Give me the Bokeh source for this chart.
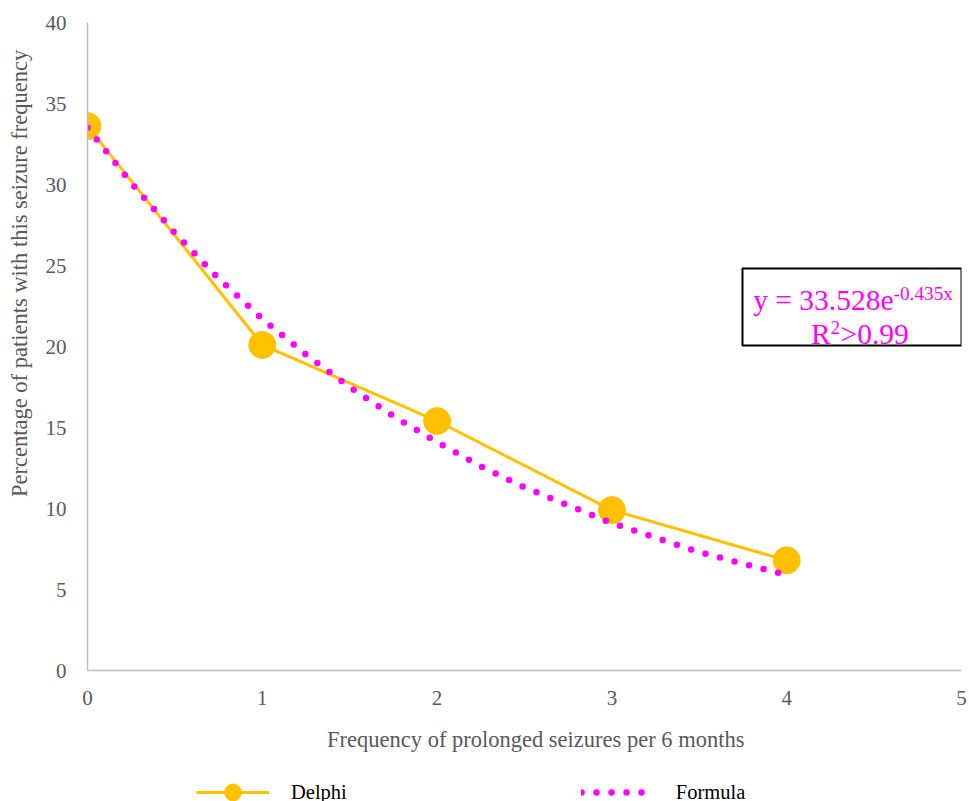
from bokeh.plotting import figure
from bokeh.layouts import column
from bokeh.models import (Legend, LegendItem, Label, BoxAnnotation, FixedTicker,
                          ColumnDataSource)
from bokeh.embed import file_html
from bokeh.resources import INLINE

# ---- data ----
freq = [0, 1, 2, 3, 4]
delphi = [33.6, 20.1, 15.4, 9.9, 6.8]
formula_x = [0, 0.25, 0.5, 0.75, 1, 1.25, 1.5, 1.75, 2, 2.25, 2.5, 2.75, 3, 3.25, 3.5, 3.75, 4]
formula_y = [33.5, 30.1, 27.0, 24.2, 21.7, 19.5, 17.5, 15.7, 14.1, 12.6, 11.3, 10.2, 9.1, 8.2, 7.3, 6.6, 5.9]
x_ticks = [0, 1, 2, 3, 4, 5]
y_ticks = [0, 5, 10, 15, 20, 25, 30, 35, 40]
x_title = "Frequency of prolonged seizures per 6 months"
y_title = "Percentage of patients with this seizure frequency"

FONT = "Liberation Serif"
GOLD = "#FFC000"
MAG = "#FF00FF"
AXIS = "#BFBFBF"
TXT = "#595959"
NBSP = "\u00a0"

p = figure(width=969, height=770, output_backend="svg", toolbar_location=None,
           x_range=(0, 5), y_range=(0, 40),
           min_border_left=87, min_border_right=8, min_border_top=22, min_border_bottom=100)
p.outline_line_color = None
p.xgrid.visible = False
p.ygrid.visible = False

for ax in (p.xaxis[0], p.yaxis[0]):
    ax.axis_line_color = AXIS
    ax.axis_line_width = 1.5
    ax.major_tick_line_color = None
    ax.minor_tick_line_color = None
    ax.major_label_text_font = FONT
    ax.major_label_text_font_size = "21px"
    ax.major_label_text_color = TXT
    ax.axis_label_text_font = FONT
    ax.axis_label_text_font_size = "22.5px"
    ax.axis_label_text_color = TXT
    ax.axis_label_text_font_style = "normal"

p.xaxis.ticker = FixedTicker(ticks=x_ticks)
p.yaxis.ticker = FixedTicker(ticks=y_ticks)
p.xaxis.major_label_standoff = 14
p.yaxis.major_label_standoff = 15
# non-breaking padding shifts the titles off-centre as in the reference
p.xaxis.axis_label = NBSP * 4 + x_title
p.yaxis.axis_label = NBSP * 26 + y_title
p.xaxis.axis_label_standoff = 19
p.yaxis.axis_label_standoff = 11

src = ColumnDataSource(dict(x=freq, y=delphi))
fsrc = ColumnDataSource(dict(x=formula_x, y=formula_y))

DEL_LINE = dict(line_color=GOLD, line_width=3)
DEL_MARK = dict(size=27, fill_color=GOLD, line_color=GOLD)
FOR_LINE = dict(line_color=MAG, line_width=6.5, line_dash="0 15", line_cap="round")

p.line("x", "y", source=src, **DEL_LINE)
p.scatter("x", "y", source=src, **DEL_MARK)
p.line("x", "y", source=fsrc, **FOR_LINE)

box = BoxAnnotation(left=3.747, right=5.0, top=24.81, bottom=20.06,
                    fill_color="white", fill_alpha=1.0,
                    line_color="black", line_alpha=1.0, line_width=2)
p.add_layout(box)

p.add_layout(Label(x=4.611, y=22.84, text="y = 33.528e", text_align="right",
                   text_baseline="alphabetic", text_font=FONT, text_font_size="29.5px",
                   text_color=MAG))
p.add_layout(Label(x=4.611, y=23.27, text="-0.435x", text_align="left",
                   text_baseline="alphabetic", text_font=FONT, text_font_size="19.3px",
                   text_color=MAG))
p.add_layout(Label(x=4.251, y=20.80, text="R", text_align="right",
                   text_baseline="alphabetic", text_font=FONT, text_font_size="29.5px",
                   text_color=MAG))
p.add_layout(Label(x=4.251, y=21.17, text="2", text_align="left",
                   text_baseline="alphabetic", text_font=FONT, text_font_size="19.3px",
                   text_color=MAG))
p.add_layout(Label(x=4.308, y=20.80, text=">0.99", text_align="left",
                   text_baseline="alphabetic", text_font=FONT, text_font_size="29.5px",
                   text_color=MAG))

# ---- legend strip below the chart (its ranges keep the series out of view) ----
lg = figure(width=969, height=31, output_backend="svg", toolbar_location=None,
            x_axis_type=None, y_axis_type=None, x_range=(100, 101), y_range=(100, 101),
            min_border_left=0, min_border_right=0, min_border_top=0, min_border_bottom=0)
lg.outline_line_color = None
lg.xgrid.visible = False
lg.ygrid.visible = False
r1 = lg.line("x", "y", source=src, **DEL_LINE)
r2 = lg.scatter("x", "y", source=src, **DEL_MARK)
r3 = lg.line("x", "y", source=fsrc, **FOR_LINE)

legend = Legend(items=[LegendItem(label="Delphi", renderers=[r1, r2]),
                       LegendItem(label="Formula", renderers=[r3])],
                orientation="horizontal", location=(109, -12),
                glyph_width=73, glyph_height=42, label_standoff=22, spacing=234,
                padding=0, margin=0, border_line_color=None, background_fill_alpha=0,
                label_text_font=FONT, label_text_font_size="20.5px", label_text_color="black")
lg.add_layout(legend, "center")

layout = column(p, lg, spacing=0)
open("out.html", "w").write(file_html(layout, INLINE))
